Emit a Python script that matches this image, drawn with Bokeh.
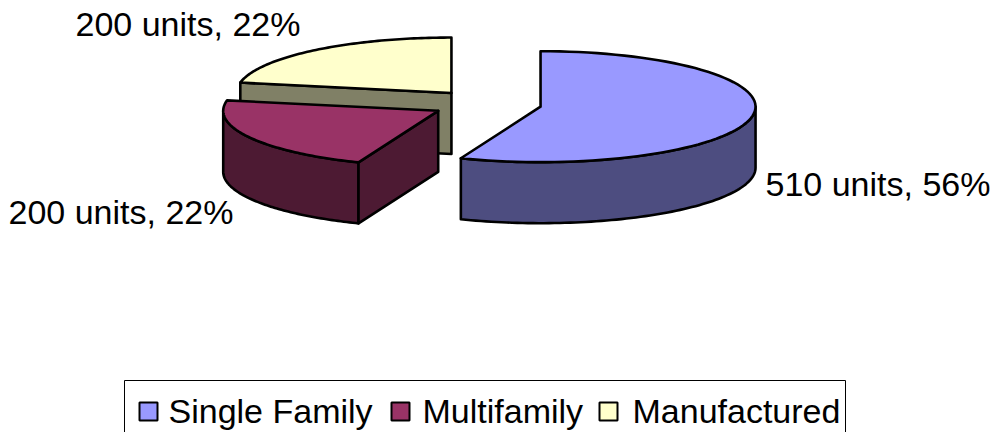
import numpy as np
from bokeh.plotting import figure
from bokeh.models import Range1d
from bokeh.core.properties import value
from bokeh.embed import file_html
from bokeh.resources import INLINE

# ---- data ----
categories = ["Single Family", "Multifamily", "Manufactured"]
units = [510, 200, 200]
top_colors = ["#9999FF", "#993366", "#FFFFCC"]
side_colors = ["#4D4D80", "#4D1A33", "#808066"]

# ---- geometry (layout, screen pixels) ----
CX, CY = 486.0, 103.5      # pie centre
RX, RY = 215.0, 55.5       # ellipse radii
DEPTH = 61.0               # extrusion
EXPLODE = 0.256            # explode distance (fraction of radius)
FONT = value("Liberation Sans")
FSIZE = "34px"

W, H = 997, 432
p = figure(width=W, height=H, x_range=Range1d(0, W), y_range=Range1d(H, 0),
           output_backend="svg", toolbar_location=None, min_border=0,
           x_axis_location=None, y_axis_location=None, outline_line_color=None)
p.xgrid.visible = False
p.ygrid.visible = False
p.background_fill_color = "white"


def pt(cx, cy, a, dz=0.0):
    r = np.radians(a)
    return cx + RX * np.cos(r), cy - RY * np.sin(r) + dz


def arc(cx, cy, a0, a1, dz=0.0, n=80):
    t = np.radians(np.linspace(a0, a1, n))
    return cx + RX * np.cos(t), cy - RY * np.sin(t) + dz


total = float(sum(units))
fr = [u / total for u in units]
cum = np.concatenate([[0.0], np.cumsum(fr)])

slices = []
for i in range(len(units)):
    start = 90.0 - 360.0 * cum[i]
    end = 90.0 - 360.0 * cum[i + 1]
    mid = (start + end) / 2.0
    m = np.radians(mid)
    cx = CX + EXPLODE * RX * np.cos(m)
    cy = CY - EXPLODE * RY * np.sin(m)
    slices.append((i, start, end, mid, cx, cy))

# paint back to front
order = sorted(slices, key=lambda s: -np.sin(np.radians(s[3])))

LW = 2.6
for i, start, end, mid, cx, cy in order:
    # outer side wall (front half: sin < 0)
    for k in (-1, 0, 1):
        lo = max(end, -180.0 + 360.0 * k)
        hi = min(start, 0.0 + 360.0 * k)
        if hi - lo > 0.01:
            xt, yt = arc(cx, cy, lo, hi)
            xb, yb = arc(cx, cy, hi, lo, DEPTH)
            p.patch(np.concatenate([xt, xb]), np.concatenate([yt, yb]),
                    fill_color=side_colors[i], line_color="black", line_width=LW,
                    line_join="round")
    # radial faces
    for a, vis in ((start, np.cos(np.radians(start)) < -1e-6),
                   (end, np.cos(np.radians(end)) > 1e-6)):
        if vis:
            ex, ey = pt(cx, cy, a)
            p.patch([cx, ex, ex, cx], [cy, ey, ey + DEPTH, cy + DEPTH],
                    fill_color=side_colors[i], line_color="black", line_width=LW,
                    line_join="round")
    # top face
    xa, ya = arc(cx, cy, end, start)
    p.patch(np.concatenate([[cx], xa]), np.concatenate([[cy], ya]),
            fill_color=top_colors[i], line_color="black", line_width=LW,
            line_join="round")

# ---- data labels ----
labels = [f"{u} units, {round(100 * f)}%" for u, f in zip(units, fr)]
label_x = [765, 8, 75]
label_y = [183.5, 211.5, 23.5]
p.text(x=label_x, y=label_y, text=labels, text_font=FONT, text_font_size=FSIZE,
       text_color="black", text_baseline="middle", text_align="left")

# ---- legend ----
p.multi_line(xs=[[124, 124, 845, 845]], ys=[[440, 380, 380, 440]],
             line_color="black", line_width=1)
sq_x = [148, 400, 608]
txt_x = [168, 422, 632]
p.rect(x=sq_x, y=[411] * 3, width=18, height=18, fill_color=top_colors,
       line_color="black", line_width=2)
p.text(x=txt_x, y=[410] * 3, text=categories, text_font=FONT, text_font_size=FSIZE,
       text_color="black", text_baseline="middle", text_align="left")

open("out.html", "w").write(file_html(p, INLINE))
